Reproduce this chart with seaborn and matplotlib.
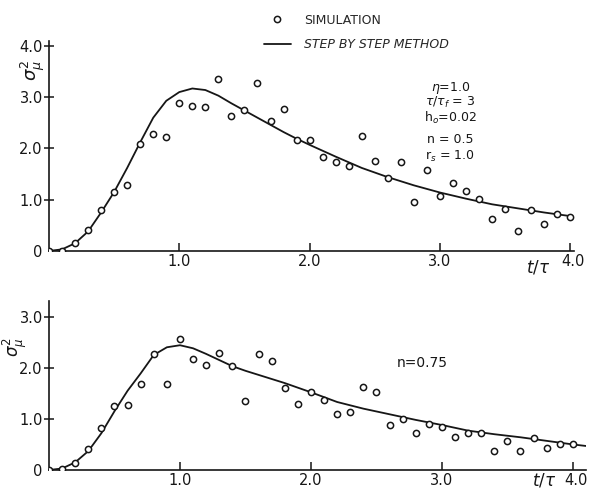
import numpy as np
import pandas as pd
import matplotlib
matplotlib.use("Agg")
import matplotlib.pyplot as plt
import matplotlib.transforms as mtransforms
import seaborn as sns
from matplotlib.lines import Line2D

# simulation points (t/tau on a 0.1 grid)
t_sim = [0.0, 0.1, 0.2, 0.3, 0.4, 0.5, 0.6, 0.7, 0.8, 0.9, 1.0,
         1.1, 1.2, 1.3, 1.4, 1.5, 1.6, 1.7, 1.8, 1.9, 2.0,
         2.1, 2.2, 2.3, 2.4, 2.5, 2.6, 2.7, 2.8, 2.9, 3.0,
         3.1, 3.2, 3.3, 3.4, 3.5, 3.6, 3.7, 3.8, 3.9, 4.0]
sim_n05 = [0.0, 0.0, 0.15, 0.40, 0.79, 1.15, 1.28, 2.08, 2.28, 2.22, 2.88,
           2.82, 2.80, 3.35, 2.63, 2.75, 3.27, 2.53, 2.77, 2.17, 2.16,
           1.84, 1.73, 1.65, 2.25, 1.76, 1.43, 1.73, 0.96, 1.57, 1.08,
           1.33, 1.16, 1.02, 0.63, 0.82, 0.39, 0.80, 0.53, 0.72, 0.67]
sim_n075 = [0.0, 0.02, 0.14, 0.41, 0.82, 1.25, 1.27, 1.68, 2.27, 1.68, 2.57,
            2.18, 2.05, 2.29, 2.03, 1.35, 2.26, 2.13, 1.60, 1.30, 1.52,
            1.37, 1.09, 1.13, 1.62, 1.53, 0.88, 1.00, 0.73, 0.90, 0.84,
            0.65, 0.73, 0.73, 0.38, 0.57, 0.38, 0.62, 0.43, 0.50, 0.50]

# step by step method curves
t_line = [0.0, 0.1, 0.2, 0.3, 0.4, 0.5, 0.6, 0.7, 0.8, 0.9, 1.0,
          1.1, 1.2, 1.3, 1.4, 1.5, 1.6, 1.7, 1.8, 1.9, 2.0,
          2.2, 2.4, 2.6, 2.8, 3.0, 3.2, 3.4, 3.6, 3.8, 4.0]
line_n05 = [0.0, 0.03, 0.15, 0.38, 0.75, 1.15, 1.62, 2.12, 2.60, 2.93, 3.10,
            3.17, 3.14, 3.03, 2.88, 2.74, 2.60, 2.46, 2.32, 2.19, 2.07,
            1.84, 1.62, 1.44, 1.28, 1.14, 1.02, 0.91, 0.83, 0.75, 0.68]
t_line_b = t_line + [4.1]
line_n075 = [0.0, 0.03, 0.15, 0.37, 0.72, 1.15, 1.55, 1.89, 2.25, 2.40, 2.44,
             2.38, 2.27, 2.15, 2.03, 1.94, 1.86, 1.78, 1.70, 1.61, 1.52,
             1.33, 1.20, 1.09, 0.98, 0.88, 0.77, 0.70, 0.64, 0.57, 0.50, 0.47]

x_ticks = [1.0, 2.0, 3.0, 4.0]
x_labels = ["1.0", "2.0", "3.0", "4.0"]

sns.set_style("ticks")
plt.rcParams["font.family"] = ["DejaVu Sans"]
plt.rcParams["mathtext.fontset"] = "dejavusans"

ink = "#161616"
fig = plt.figure(figsize=(5.94, 4.92), dpi=100)
ax1 = fig.add_axes([0.0825, 0.490, 0.884, 0.427])
ax2 = fig.add_axes([0.0825, 0.0447, 0.904, 0.343])


def panel(ax, t_l, y_l, y_s, xmax, ymax, yticks):
    sns.lineplot(x=t_l, y=y_l, ax=ax, color=ink, linewidth=1.3, sort=False)
    sns.scatterplot(x=t_sim, y=y_s, ax=ax, marker="o", s=20,
                    facecolor="white", edgecolor=ink, linewidth=1.1, zorder=3)
    ax.set_xlim(0, xmax)
    ax.set_ylim(0, ymax)
    ax.set_xticks(x_ticks)
    ax.set_xticklabels(x_labels, fontsize=10.5)
    ax.set_yticks([0] + yticks)
    ax.set_yticklabels(["0"] + ["%.1f" % v for v in yticks], fontsize=10.5)
    ax.tick_params(axis="x", direction="in", length=6, width=1.1, pad=2, colors=ink)
    ax.tick_params(axis="y", direction="inout", length=7, width=1.1, pad=1, colors=ink)
    ax.yaxis.get_major_ticks()[0].tick1line.set_visible(False)
    # 4.0 label sits a little to the right of its tick
    lab = ax.xaxis.get_major_ticks()[-1].label1
    lab.set_transform(lab.get_transform() +
                      mtransforms.ScaledTranslation(0.03, 0, fig.dpi_scale_trans))
    for s in ["top", "right"]:
        ax.spines[s].set_visible(False)
    for s in ["left", "bottom"]:
        ax.spines[s].set_linewidth(1.2)
        ax.spines[s].set_color(ink)
    ax.set_xlabel("")
    ax.set_ylabel("")


panel(ax1, t_line, line_n05, sim_n05, 4.03, 4.1, [1.0, 2.0, 3.0, 4.0])
panel(ax2, t_line_b, line_n075, sim_n075, 4.1, 3.3, [1.0, 2.0, 3.0])

# axis titles
ax1.text(-0.03, 0.86, r"$\sigma^2_\mu$", transform=ax1.transAxes, rotation=90,
         fontsize=13, ha="center", va="center", color=ink)
ax2.text(-0.064, 0.73, r"$\sigma^2_\mu$", transform=ax2.transAxes, rotation=90,
         fontsize=12, ha="center", va="center", color=ink)
ax1.text(3.75, -0.08, r"$t/\tau$", transform=ax1.get_xaxis_transform(),
         fontsize=12, ha="center", va="center", color=ink)
ax2.text(3.78, -0.065, r"$t/\tau$", transform=ax2.get_xaxis_transform(),
         fontsize=12, ha="center", va="center", color=ink)

# parameter annotations
params = [r"$\eta$=1.0", r"$\tau/\tau_f$ = 3", r"h$_o$=0.02", "n = 0.5", r"r$_s$ = 1.0"]
param_y = [3.18, 2.90, 2.60, 2.17, 1.85]
for txt, yy in zip(params, param_y):
    ax1.text(3.08, yy, txt, fontsize=9, ha="center", va="center", color=ink)
ax2.text(2.85, 2.09, "n=0.75", fontsize=10, ha="center", va="center", color=ink)

# legend above the top panel
handles = [Line2D([], [], marker="o", linestyle="none", markersize=4.5,
                  markerfacecolor="white", markeredgecolor=ink, markeredgewidth=1.1),
           Line2D([], [], color=ink, linewidth=1.3)]
leg = fig.legend(handles, ["SIMULATION", "STEP BY STEP METHOD"],
                 loc="upper left", bbox_to_anchor=(0.425, 0.995), frameon=False,
                 fontsize=9, handlelength=2.2, handletextpad=1.0, labelspacing=0.9)
leg.get_texts()[1].set_style("italic")

fig.savefig("out.png", dpi=100)
